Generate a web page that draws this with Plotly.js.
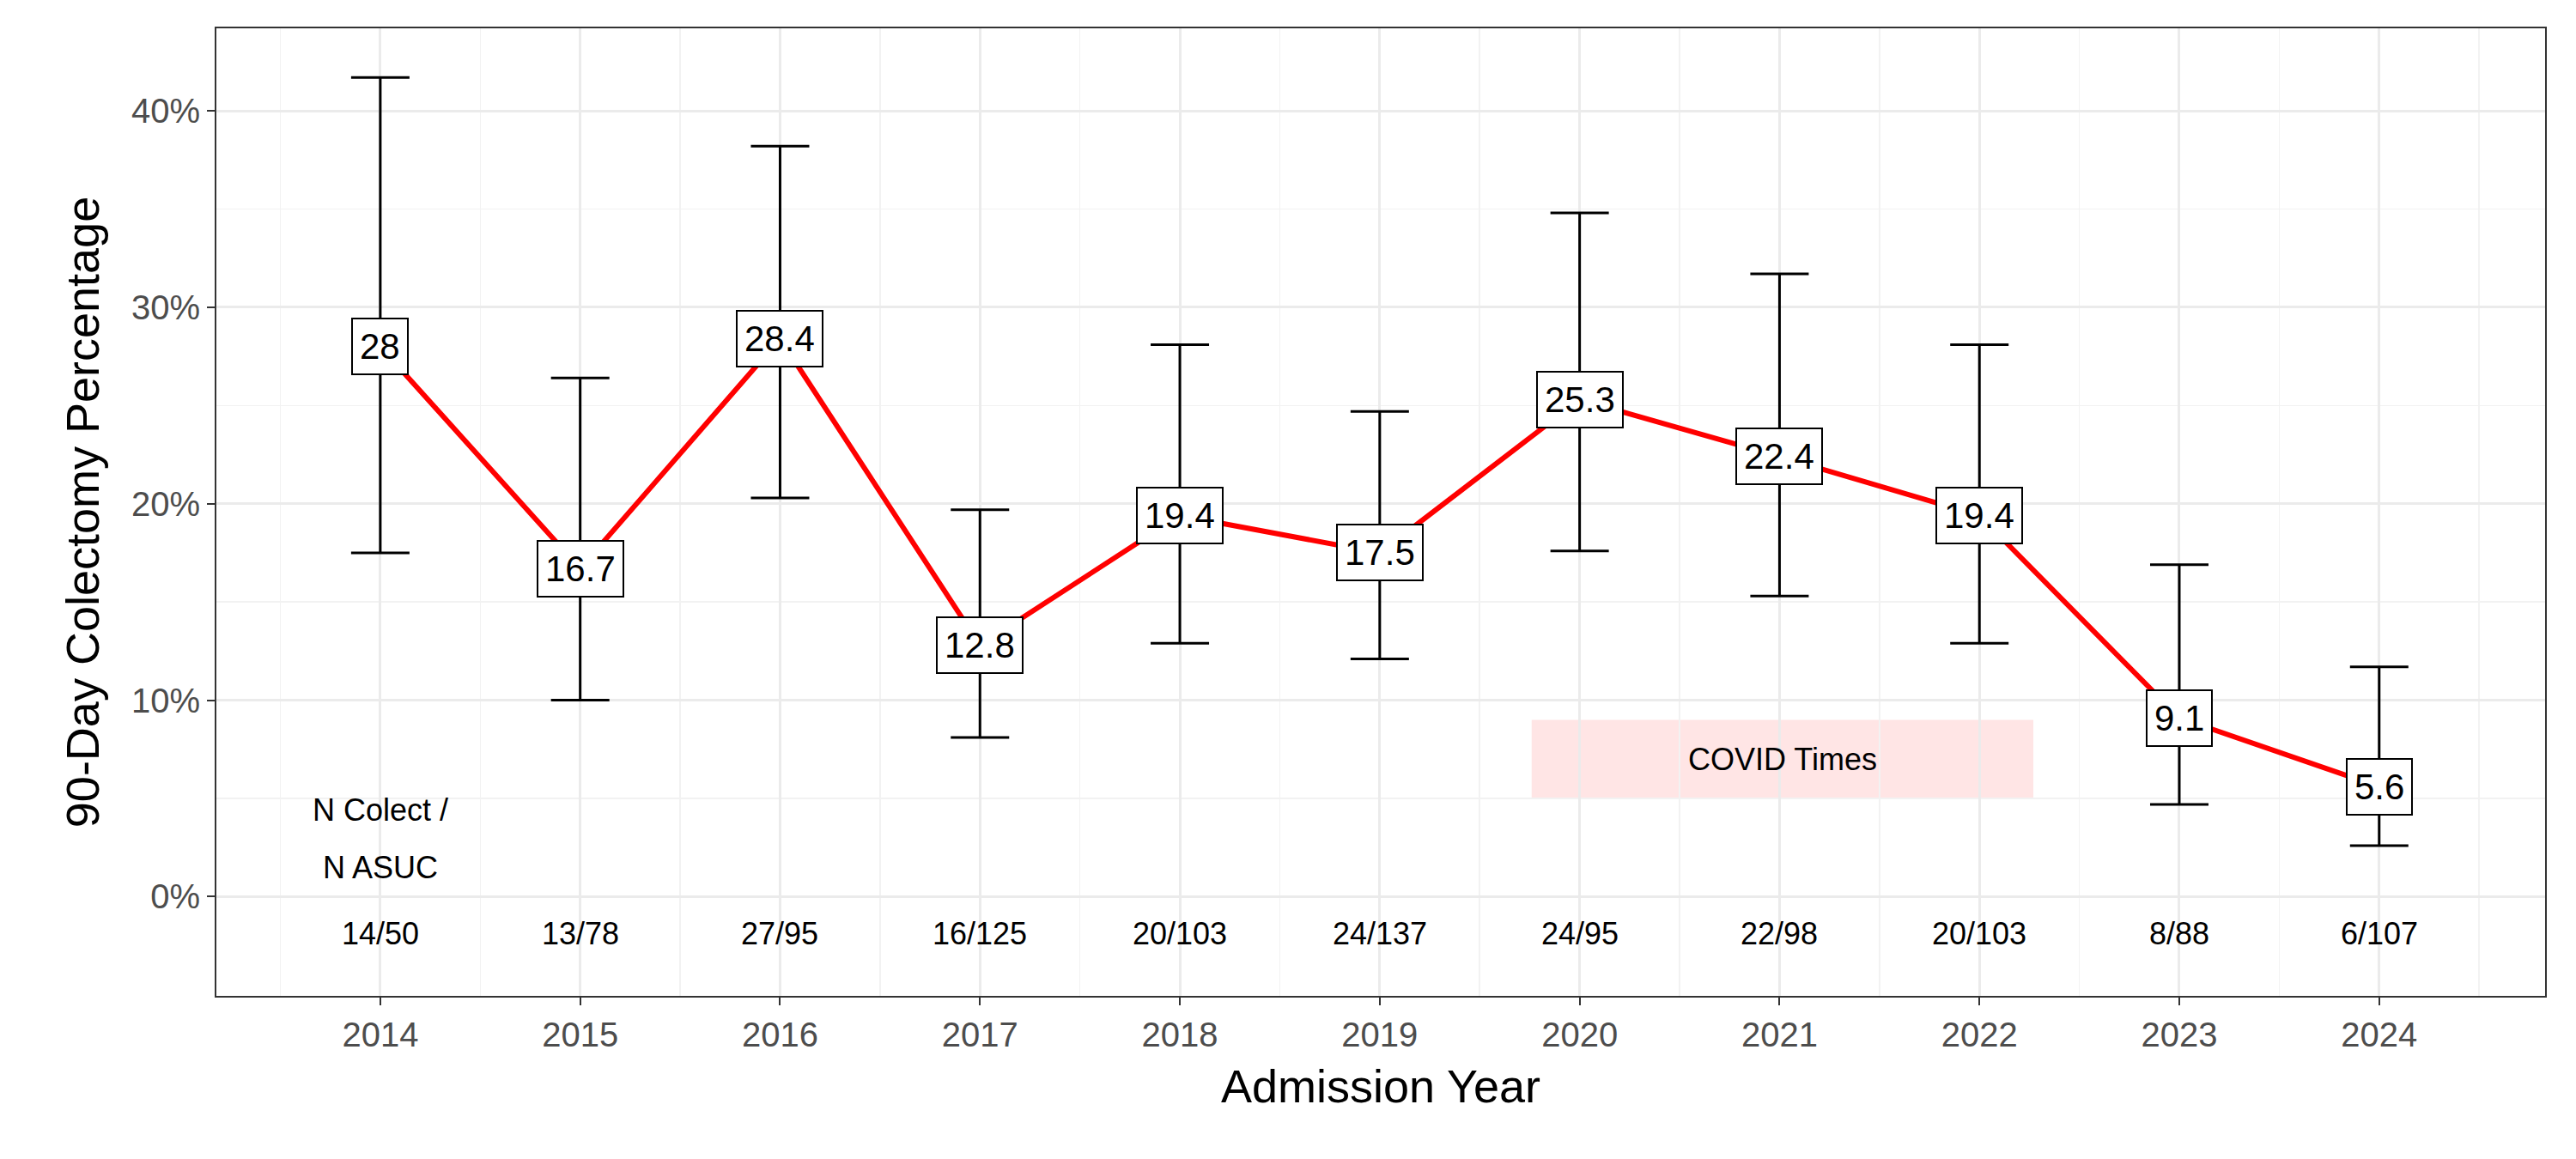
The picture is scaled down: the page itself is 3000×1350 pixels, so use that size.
<!DOCTYPE html>
<html><head><meta charset="utf-8">
<script src="https://cdn.plot.ly/plotly-3.0.1.min.js"></script>
<style>body{margin:0}</style></head>
<body><div id="chart" style="width:3000px;height:1350px"></div>
<script>
const years = [2014,2015,2016,2017,2018,2019,2020,2021,2022,2023,2024];
const pct = [28,16.7,28.4,12.8,19.4,17.5,25.3,22.4,19.4,9.1,5.6];
const upper = [41.7,26.4,38.2,19.7,28.1,24.7,34.8,31.7,28.1,16.9,11.7];
const lower = [17.5,10.0,20.3,8.1,12.9,12.1,17.6,15.3,12.9,4.7,2.6];
const nLabels = ["14/50","13/78","27/95","16/125","20/103","24/137","24/95","22/98","20/103","8/88","6/107"];
const covid = {x0:2019.76, x1:2022.27, y0:5, y1:9, label:"COVID Times"};

const font = "Liberation Sans, Arial, sans-serif";
const annotations = [];
years.forEach((y,i)=>{
  annotations.push({x:y,y:pct[i],text:String(pct[i]),showarrow:false,bgcolor:"white",bordercolor:"black",borderwidth:2,borderpad:8,font:{size:42,color:"black",family:font}});
  annotations.push({x:y,y:-1.9,text:nLabels[i],showarrow:false,font:{size:36,color:"black",family:font}});
});
annotations.push({x:2014,y:4.4,text:"N Colect /",showarrow:false,font:{size:36,color:"black",family:font}});
annotations.push({x:2014,y:1.5,text:"N ASUC",showarrow:false,font:{size:36,color:"black",family:font}});
annotations.push({x:(covid.x0+covid.x1)/2,y:(covid.y0+covid.y1)/2,text:covid.label,showarrow:false,font:{size:36,color:"black",family:font}});

const trace = {x:years,y:pct,mode:"lines",line:{color:"red",width:6},
  error_y:{type:"data",symmetric:false,array:upper.map((u,i)=>u-pct[i]),arrayminus:pct.map((p,i)=>p-lower[i]),color:"black",thickness:3,width:34},hoverinfo:"none"};

const layout = {
  width:3000,height:1350,paper_bgcolor:"white",plot_bgcolor:"white",showlegend:false,
  margin:{l:252,r:36,t:33,b:190},
  font:{family:font},
  xaxis:{range:[2013.18,2024.83],tickvals:years,ticktext:years.map(String),showgrid:true,gridcolor:"#ebebeb",gridwidth:3,
    minor:{dtick:0.5,tick0:2013.5,showgrid:true,gridcolor:"#f2f2f2",gridwidth:1.5},
    ticks:"outside",ticklen:9,tickwidth:2,tickcolor:"#333",tickfont:{size:40,color:"#4d4d4d"},
    showline:true,linecolor:"#333",linewidth:2,mirror:true,zeroline:false,
    title:{text:"Admission Year",font:{size:54,color:"black"},standoff:20}},
  yaxis:{range:[-5.05,44.2],tickvals:[0,10,20,30,40],ticktext:["0%","10%","20%","30%","40%"],showgrid:true,gridcolor:"#ebebeb",gridwidth:3,
    minor:{tickvals:[5,15,25,35],showgrid:true,gridcolor:"#f2f2f2",gridwidth:1.5},
    ticks:"outside",ticklen:9,tickwidth:2,tickcolor:"#333",tickfont:{size:40,color:"#4d4d4d"},
    showline:true,linecolor:"#333",linewidth:2,mirror:true,zeroline:false,
    title:{text:"90-Day Colectomy Percentage",font:{size:54,color:"black"},standoff:20}},
  shapes:[{type:"rect",xref:"x",yref:"y",x0:covid.x0,x1:covid.x1,y0:covid.y0,y1:covid.y1,fillcolor:"rgba(255,0,0,0.1)",line:{width:0},layer:"below"}],
  annotations:annotations
};
Plotly.newPlot("chart",[trace],layout,{staticPlot:true});
</script></body></html>
